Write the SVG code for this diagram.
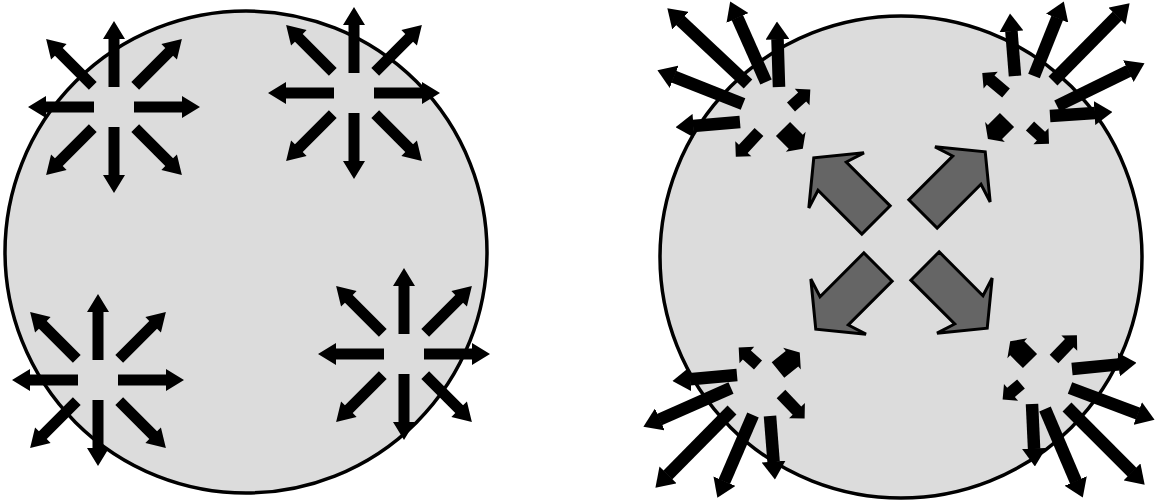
<svg xmlns="http://www.w3.org/2000/svg" xmlns:xlink="http://www.w3.org/1999/xlink" width="1161" height="504" viewBox="0 0 1161 504">
<style>
.disc{fill:#dcdcdc;stroke:#000;stroke-width:3.5}
.blk{fill:#000}
.ray{stroke:#000;stroke-width:12.5;fill:none;marker-end:url(#hd)}
.big{fill:#656565;stroke:#000;stroke-width:3;stroke-linejoin:miter}
</style>
<defs>
<marker id="hd" markerUnits="userSpaceOnUse" viewBox="0 0 18 24" markerWidth="18" markerHeight="24" refX="0.5" refY="12" orient="auto">
<path d="M0,0 L18,12 L0,24 Z" fill="#000"/>
</marker>
<path id="sa" d="M20,-5.5 H68 V-11 L86,0 L68,11 V5.5 H20 Z"/>
<path id="sd" d="M30,-5.5 H78 V-11 L96,0 L78,11 V5.5 H30 Z"/>
<path id="big" d="M0,-20 H62 L56,-39 L88,0 L56,39 L62,20 H0 Z"/>
<g id="star">
<use xlink:href="#sa"/>
<use xlink:href="#sa" transform="rotate(90)"/>
<use xlink:href="#sa" transform="rotate(180)"/>
<use xlink:href="#sa" transform="rotate(270)"/>
<use xlink:href="#sd" transform="rotate(45)"/>
<use xlink:href="#sd" transform="rotate(135)"/>
<use xlink:href="#sd" transform="rotate(225)"/>
<use xlink:href="#sd" transform="rotate(315)"/>
</g>
</defs>
<rect width="1161" height="504" fill="#fff"/>

<g id="left-panel">
<circle id="left-circle" class="disc" cx="246" cy="252" r="241"/>
<g id="star-tl" class="blk"><use xlink:href="#star" transform="translate(114,107)"/></g>
<g id="star-tr" class="blk"><use xlink:href="#star" transform="translate(354,93)"/></g>
<g id="star-bl" class="blk"><use xlink:href="#star" transform="translate(98,380)"/></g>
<g id="star-br" class="blk"><use xlink:href="#star" transform="translate(404,354)"/></g>
</g>

<g id="right-panel">
<circle id="right-circle" class="disc" cx="901" cy="257" r="241"/>

<g id="big-arrows" class="big">
<use xlink:href="#big" transform="translate(876,220) rotate(-135)"/>
<use xlink:href="#big" transform="translate(923,214) rotate(-45)"/>
<use xlink:href="#big" transform="translate(878,267) rotate(135)"/>
<use xlink:href="#big" transform="translate(925,266) rotate(45)"/>
</g>

<g id="burst-tl">
<g class="ray">
<line x1="779" y1="87" x2="777.5" y2="39"/>
<line x1="766" y1="82" x2="737.3" y2="17.5"/>
<line x1="748" y1="84" x2="680.1" y2="20.3"/>
<line x1="743" y1="104" x2="673.7" y2="76.6"/>
<line x1="740" y1="122" x2="693" y2="125.9"/>
</g>
<g class="blk">
<path transform="translate(791,107) rotate(-42)" d="M0,-6 H15 V-11 L26,0 L15,11 V6 H0 Z"/>
<path transform="translate(783,129) rotate(45)" d="M0,-10 H18 V-14 L28,0 L18,14 V10 H0 Z"/>
<path transform="translate(759,132) rotate(133)" d="M0,-6 H23 V-11 L34,0 L23,11 V6 H0 Z"/>
</g>
</g>

<g id="burst-tr">
<g class="ray">
<line x1="1015" y1="76" x2="1011.4" y2="30.9"/>
<line x1="1034" y1="76" x2="1057.3" y2="17.7"/>
<line x1="1053" y1="81" x2="1117.3" y2="15.8"/>
<line x1="1057" y1="106" x2="1128.8" y2="70.9"/>
<line x1="1050" y1="116" x2="1095" y2="113.1"/>
</g>
<g class="blk">
<path transform="translate(1006,93) rotate(-140)" d="M0,-6 H20 V-11 L31,0 L20,11 V6 H0 Z"/>
<path transform="translate(1007,120) rotate(135)" d="M0,-10 H17 V-14 L27,0 L17,14 V10 H0 Z"/>
<path transform="translate(1030,126) rotate(43)" d="M0,-6 H15 V-11 L26,0 L15,11 V6 H0 Z"/>
</g>
</g>

<g id="burst-bl">
<g class="ray">
<line x1="737" y1="375" x2="689.9" y2="379.3"/>
<line x1="731" y1="388" x2="659.4" y2="419.6"/>
<line x1="732" y1="410" x2="667.7" y2="475.2"/>
<line x1="753" y1="415" x2="724.3" y2="481.6"/>
<line x1="770" y1="416" x2="773.6" y2="462.1"/>
</g>
<g class="blk">
<path transform="translate(758,365) rotate(-138)" d="M0,-6 H15 V-11 L26,0 L15,11 V6 H0 Z"/>
<path transform="translate(778,370) rotate(-39)" d="M0,-10 H18 V-14 L28,0 L18,14 V10 H0 Z"/>
<path transform="translate(781,394) rotate(46)" d="M0,-6 H23 V-11 L34,0 L23,11 V6 H0 Z"/>
</g>
</g>

<g id="burst-br">
<g class="ray">
<line x1="1072" y1="369" x2="1119.1" y2="364.4"/>
<line x1="1070" y1="388" x2="1138.2" y2="413.7"/>
<line x1="1067" y1="407" x2="1132.3" y2="472.3"/>
<line x1="1045" y1="409" x2="1075.9" y2="481.5"/>
<line x1="1032" y1="404" x2="1034.1" y2="449"/>
</g>
<g class="blk">
<path transform="translate(1030,361) rotate(-135)" d="M0,-10 H18 V-14 L28,0 L18,14 V10 H0 Z"/>
<path transform="translate(1054,359) rotate(-46)" d="M0,-6 H22 V-11 L33,0 L22,11 V6 H0 Z"/>
<path transform="translate(1021,384) rotate(140)" d="M0,-6 H13 V-11 L24,0 L13,11 V6 H0 Z"/>
</g>
</g>
</g>
</svg>
